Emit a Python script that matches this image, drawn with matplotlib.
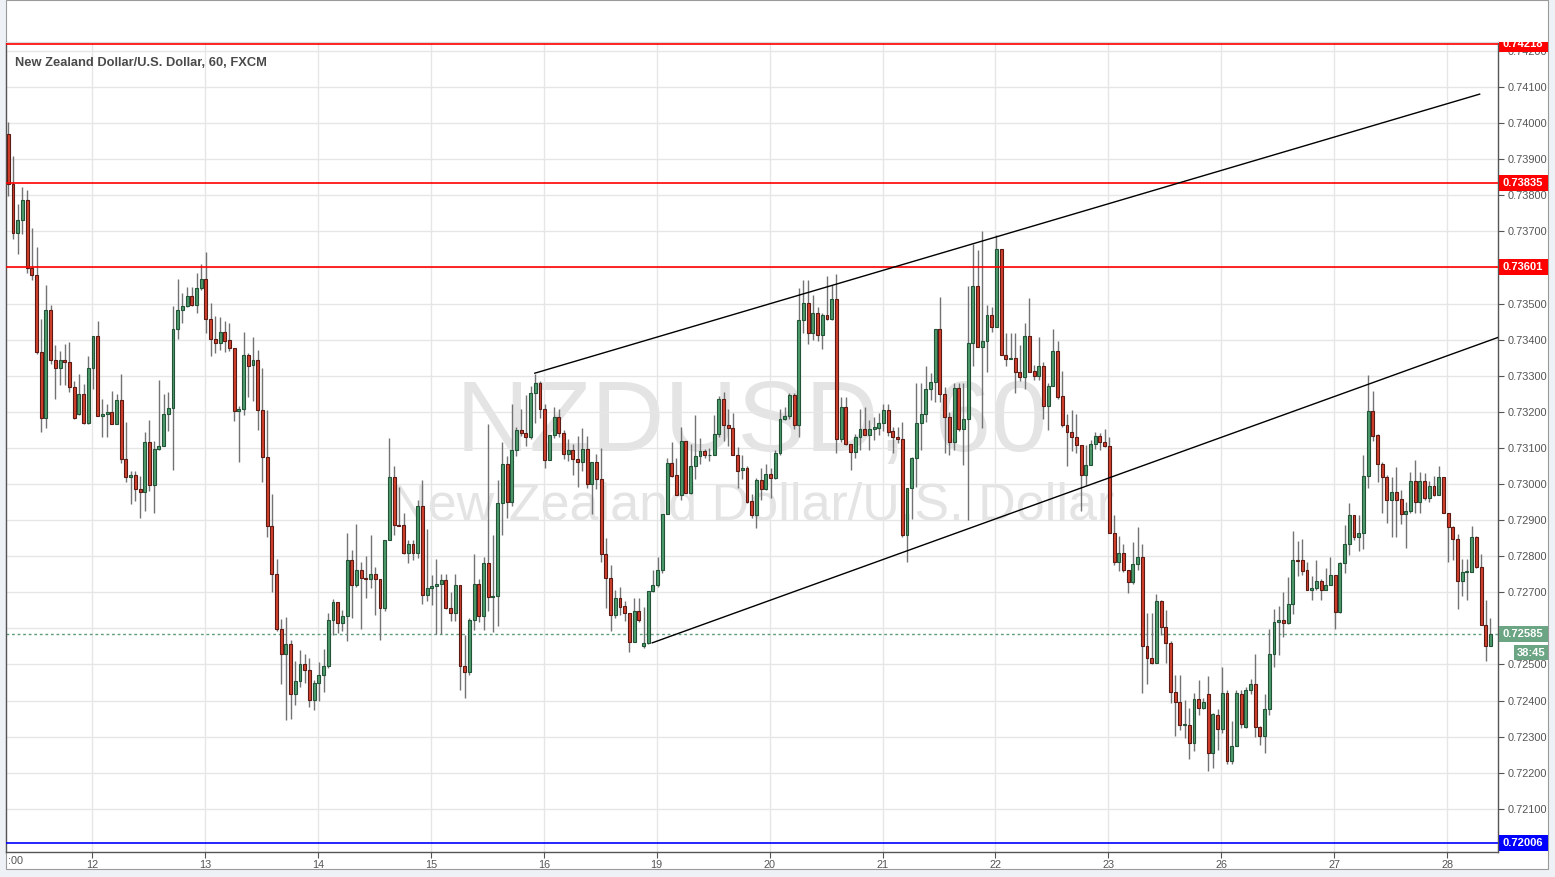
import matplotlib
matplotlib.use("Agg")
import matplotlib.pyplot as plt
import matplotlib.transforms as mtransforms
from matplotlib.patches import Rectangle
import numpy as np

# --- Hourly NZD/USD candles ---
opens = [
    0.73970, 0.73831, 0.73696, 0.73730, 0.73787, 0.73597, 0.73578, 0.73367, 0.73183, 0.73481,
    0.73344, 0.73322, 0.73344, 0.73339, 0.73269, 0.73194, 0.73250, 0.73169, 0.73322, 0.73411,
    0.73189, 0.73194, 0.73200, 0.73167, 0.73233, 0.73069, 0.73019, 0.73025, 0.72986, 0.72977,
    0.73115, 0.72996, 0.73097, 0.73106, 0.73193, 0.73211, 0.73428, 0.73481, 0.73493, 0.73522,
    0.73496, 0.73542, 0.73569, 0.73456, 0.73402, 0.73391, 0.73420, 0.73398, 0.73378, 0.73202,
    0.73208, 0.73356, 0.73330, 0.73344, 0.73205, 0.73074, 0.72885, 0.72750, 0.72598, 0.72530,
    0.72557, 0.72419, 0.72453, 0.72502, 0.72485, 0.72402, 0.72450, 0.72472, 0.72497, 0.72624,
    0.72672, 0.72615, 0.72635, 0.72789, 0.72720, 0.72763, 0.72740, 0.72737, 0.72752, 0.72737,
    0.72657, 0.72846, 0.73019, 0.72887, 0.72887, 0.72809, 0.72835, 0.72809, 0.72939, 0.72693,
    0.72713, 0.72717, 0.72724, 0.72735, 0.72657, 0.72643, 0.72721, 0.72496, 0.72480, 0.72624,
    0.72724, 0.72635, 0.72780, 0.72687, 0.72689, 0.72946, 0.73055, 0.72951, 0.73094, 0.73149,
    0.73140, 0.73131, 0.73252, 0.73280, 0.73207, 0.73066, 0.73136, 0.73186, 0.73140, 0.73082,
    0.73094, 0.73069, 0.73062, 0.73096, 0.72999, 0.73061, 0.73013, 0.72805, 0.72740, 0.72638,
    0.72684, 0.72661, 0.72643, 0.72562, 0.72647, 0.72550, 0.72559, 0.72703, 0.72719, 0.72761,
    0.72916, 0.73057, 0.73024, 0.72969, 0.73119, 0.72976, 0.73050, 0.73078, 0.73092, 0.73080,
    0.73081, 0.73138, 0.73235, 0.73164, 0.73155, 0.73080, 0.73038, 0.73044, 0.72952, 0.72913,
    0.73012, 0.72986, 0.73029, 0.73017, 0.73087, 0.73181, 0.73188, 0.73246, 0.73163, 0.73455,
    0.73501, 0.73419, 0.73473, 0.73412, 0.73468, 0.73456, 0.73512, 0.73125, 0.73212, 0.73110,
    0.73089, 0.73129, 0.73151, 0.73135, 0.73151, 0.73156, 0.73168, 0.73206, 0.73147, 0.73131,
    0.73125, 0.72858, 0.72988, 0.73073, 0.73168, 0.73195, 0.73262, 0.73283, 0.73429, 0.73249,
    0.73186, 0.73117, 0.73265, 0.73151, 0.73181, 0.73390, 0.73549, 0.73379, 0.73395, 0.73468,
    0.73434, 0.73652, 0.73357, 0.73346, 0.73349, 0.73311, 0.73297, 0.73410, 0.73314, 0.73299,
    0.73326, 0.73216, 0.73271, 0.73369, 0.73243, 0.73163, 0.73145, 0.73129, 0.73107, 0.73024,
    0.73052, 0.73110, 0.73132, 0.73115, 0.73105, 0.72863, 0.72783, 0.72809, 0.72763, 0.72729,
    0.72779, 0.72797, 0.72551, 0.72518, 0.72504, 0.72676, 0.72605, 0.72560, 0.72424, 0.72397,
    0.72333, 0.72333, 0.72283, 0.72404, 0.72379, 0.72417, 0.72255, 0.72361, 0.72321, 0.72420,
    0.72233, 0.72273, 0.72419, 0.72326, 0.72430, 0.72446, 0.72328, 0.72301, 0.72377, 0.72530,
    0.72618, 0.72622, 0.72615, 0.72667, 0.72789, 0.72789, 0.72761, 0.72706, 0.72713, 0.72731,
    0.72706, 0.72721, 0.72749, 0.72645, 0.72780, 0.72833, 0.72914, 0.72854, 0.72863, 0.73022,
    0.73203, 0.73136, 0.73055, 0.73019, 0.72957, 0.72977, 0.72959, 0.72916, 0.72925, 0.73009,
    0.72949, 0.73009, 0.72960, 0.72994, 0.72969, 0.73019, 0.72919, 0.72880, 0.72849, 0.72731,
    0.72756, 0.72756, 0.72852, 0.72769, 0.72610, 0.72551,
]
highs = [
    0.74002, 0.73909, 0.73776, 0.73822, 0.73815, 0.73708, 0.73657, 0.73456, 0.73551, 0.73495,
    0.73384, 0.73369, 0.73387, 0.73392, 0.73284, 0.73306, 0.73276, 0.73354, 0.73411, 0.73452,
    0.73236, 0.73222, 0.73259, 0.73250, 0.73306, 0.73173, 0.73035, 0.73037, 0.73023, 0.73145,
    0.73178, 0.73118, 0.73287, 0.73248, 0.73254, 0.73493, 0.73567, 0.73530, 0.73546, 0.73546,
    0.73585, 0.73609, 0.73644, 0.73502, 0.73465, 0.73463, 0.73452, 0.73446, 0.73378, 0.73215,
    0.73420, 0.73363, 0.73406, 0.73372, 0.73322, 0.73205, 0.72972, 0.72791, 0.72627, 0.72631,
    0.72567, 0.72511, 0.72539, 0.72528, 0.72518, 0.72456, 0.72507, 0.72543, 0.72644, 0.72681,
    0.72672, 0.72650, 0.72863, 0.72817, 0.72889, 0.72783, 0.72800, 0.72858, 0.72769, 0.72738,
    0.72846, 0.73127, 0.73050, 0.72991, 0.72919, 0.72846, 0.72846, 0.72956, 0.73011, 0.72874,
    0.72747, 0.72791, 0.72750, 0.72750, 0.72702, 0.72750, 0.72721, 0.72581, 0.72628, 0.72806,
    0.72738, 0.72798, 0.73167, 0.72858, 0.73011, 0.73115, 0.73078, 0.73221, 0.73158, 0.73207,
    0.73247, 0.73272, 0.73306, 0.73286, 0.73221, 0.73136, 0.73212, 0.73207, 0.73149, 0.73124,
    0.73110, 0.73133, 0.73155, 0.73133, 0.73061, 0.73082, 0.73101, 0.72851, 0.72777, 0.72705,
    0.72714, 0.72675, 0.72643, 0.72684, 0.72684, 0.72658, 0.72703, 0.72763, 0.72797, 0.72916,
    0.73071, 0.73115, 0.73073, 0.73158, 0.73119, 0.73110, 0.73192, 0.73127, 0.73098, 0.73100,
    0.73192, 0.73244, 0.73254, 0.73207, 0.73198, 0.73103, 0.73080, 0.73049, 0.72973, 0.73018,
    0.73043, 0.73056, 0.73045, 0.73094, 0.73209, 0.73214, 0.73253, 0.73251, 0.73543, 0.73564,
    0.73564, 0.73524, 0.73490, 0.73473, 0.73577, 0.73552, 0.73582, 0.73240, 0.73240, 0.73110,
    0.73138, 0.73209, 0.73214, 0.73177, 0.73186, 0.73197, 0.73223, 0.73223, 0.73158, 0.73158,
    0.73173, 0.72988, 0.73075, 0.73279, 0.73279, 0.73327, 0.73308, 0.73429, 0.73518, 0.73269,
    0.73200, 0.73281, 0.73279, 0.73279, 0.73549, 0.73666, 0.73649, 0.73700, 0.73496, 0.73490,
    0.73690, 0.73652, 0.73418, 0.73418, 0.73418, 0.73384, 0.73447, 0.73516, 0.73330, 0.73407,
    0.73339, 0.73281, 0.73430, 0.73395, 0.73314, 0.73193, 0.73206, 0.73193, 0.73109, 0.73107,
    0.73122, 0.73143, 0.73140, 0.73153, 0.73129, 0.72914, 0.72855, 0.72835, 0.72763, 0.72840,
    0.72880, 0.72835, 0.72642, 0.72642, 0.72696, 0.72679, 0.72652, 0.72565, 0.72472, 0.72472,
    0.72402, 0.72379, 0.72422, 0.72457, 0.72407, 0.72467, 0.72366, 0.72376, 0.72492, 0.72430,
    0.72343, 0.72430, 0.72428, 0.72437, 0.72460, 0.72530, 0.72330, 0.72419, 0.72599, 0.72655,
    0.72661, 0.72701, 0.72743, 0.72870, 0.72843, 0.72849, 0.72784, 0.72744, 0.72789, 0.72738,
    0.72766, 0.72798, 0.72749, 0.72784, 0.72886, 0.72946, 0.72914, 0.72914, 0.73081, 0.73303,
    0.73259, 0.73139, 0.73062, 0.73025, 0.73019, 0.73046, 0.72983, 0.72951, 0.73034, 0.73067,
    0.73034, 0.73031, 0.73009, 0.73022, 0.73050, 0.73019, 0.72919, 0.72883, 0.72861, 0.72791,
    0.72791, 0.72883, 0.72856, 0.72806, 0.72678, 0.72630,
]
lows = [
    0.73798, 0.73679, 0.73637, 0.73693, 0.73585, 0.73565, 0.73361, 0.73144, 0.73155, 0.73333,
    0.73236, 0.73273, 0.73273, 0.73255, 0.73180, 0.73190, 0.73167, 0.73167, 0.73264, 0.73189,
    0.73129, 0.73129, 0.73167, 0.73167, 0.73057, 0.73005, 0.72944, 0.72952, 0.72907, 0.72924,
    0.72981, 0.72921, 0.73094, 0.73104, 0.73146, 0.73039, 0.73402, 0.73446, 0.73491, 0.73494,
    0.73474, 0.73537, 0.73419, 0.73354, 0.73363, 0.73372, 0.73366, 0.73369, 0.73174, 0.73060,
    0.73190, 0.73240, 0.73231, 0.73150, 0.73006, 0.72854, 0.72700, 0.72594, 0.72446, 0.72346,
    0.72349, 0.72389, 0.72437, 0.72450, 0.72381, 0.72374, 0.72400, 0.72423, 0.72491, 0.72583,
    0.72587, 0.72594, 0.72565, 0.72628, 0.72715, 0.72598, 0.72683, 0.72711, 0.72637, 0.72569,
    0.72648, 0.72846, 0.72858, 0.72883, 0.72806, 0.72781, 0.72790, 0.72796, 0.72667, 0.72676,
    0.72665, 0.72585, 0.72585, 0.72654, 0.72620, 0.72620, 0.72428, 0.72407, 0.72470, 0.72596,
    0.72618, 0.72596, 0.72648, 0.72590, 0.72608, 0.72860, 0.72906, 0.72939, 0.73078, 0.73133,
    0.73106, 0.73124, 0.73170, 0.73184, 0.73045, 0.73066, 0.73127, 0.73129, 0.73069, 0.73064,
    0.73025, 0.72992, 0.73036, 0.72990, 0.72916, 0.72985, 0.72784, 0.72656, 0.72594, 0.72629,
    0.72638, 0.72621, 0.72536, 0.72562, 0.72618, 0.72545, 0.72556, 0.72701, 0.72714, 0.72754,
    0.72916, 0.73019, 0.72969, 0.72957, 0.72976, 0.72971, 0.73013, 0.73056, 0.73073, 0.73064,
    0.73081, 0.73129, 0.73119, 0.73106, 0.73080, 0.72990, 0.73015, 0.72947, 0.72906, 0.72879,
    0.72956, 0.72982, 0.72961, 0.73015, 0.73080, 0.73177, 0.73181, 0.73151, 0.73129, 0.73419,
    0.73388, 0.73399, 0.73397, 0.73373, 0.73454, 0.73454, 0.73086, 0.73117, 0.73107, 0.73040,
    0.73073, 0.73095, 0.73135, 0.73095, 0.73123, 0.73135, 0.73147, 0.73132, 0.73086, 0.73114,
    0.72853, 0.72784, 0.72904, 0.72991, 0.73094, 0.73172, 0.73232, 0.73228, 0.73228, 0.73086,
    0.73080, 0.73094, 0.73147, 0.73052, 0.72899, 0.73327, 0.73379, 0.73154, 0.73311, 0.73422,
    0.73434, 0.73357, 0.73326, 0.73346, 0.73253, 0.73284, 0.73264, 0.73309, 0.73287, 0.73289,
    0.73180, 0.73150, 0.73271, 0.73236, 0.73158, 0.73049, 0.73092, 0.73087, 0.72924, 0.72998,
    0.73052, 0.73097, 0.73095, 0.73103, 0.72863, 0.72775, 0.72759, 0.72756, 0.72699, 0.72724,
    0.72763, 0.72422, 0.72447, 0.72502, 0.72504, 0.72583, 0.72504, 0.72392, 0.72301, 0.72319,
    0.72296, 0.72238, 0.72260, 0.72361, 0.72376, 0.72205, 0.72212, 0.72263, 0.72311, 0.72225,
    0.72225, 0.72273, 0.72324, 0.72324, 0.72419, 0.72300, 0.72278, 0.72256, 0.72361, 0.72493,
    0.72525, 0.72576, 0.72613, 0.72641, 0.72744, 0.72747, 0.72706, 0.72678, 0.72707, 0.72678,
    0.72706, 0.72721, 0.72599, 0.72643, 0.72754, 0.72803, 0.72844, 0.72815, 0.72821, 0.72988,
    0.73118, 0.73006, 0.72919, 0.72893, 0.72852, 0.72854, 0.72889, 0.72824, 0.72920, 0.72920,
    0.72920, 0.72956, 0.72951, 0.72967, 0.72969, 0.72919, 0.72784, 0.72789, 0.72655, 0.72689,
    0.72678, 0.72756, 0.72766, 0.72610, 0.72509, 0.72551,
]
closes = [
    0.73831, 0.73696, 0.73731, 0.73787, 0.73597, 0.73578, 0.73367, 0.73183, 0.73481, 0.73344,
    0.73322, 0.73344, 0.73339, 0.73269, 0.73183, 0.73250, 0.73169, 0.73322, 0.73411, 0.73189,
    0.73194, 0.73200, 0.73167, 0.73233, 0.73069, 0.73020, 0.73025, 0.72986, 0.72977, 0.73115,
    0.72996, 0.73097, 0.73106, 0.73193, 0.73211, 0.73428, 0.73481, 0.73493, 0.73522, 0.73496,
    0.73542, 0.73569, 0.73456, 0.73402, 0.73391, 0.73420, 0.73396, 0.73378, 0.73202, 0.73208,
    0.73356, 0.73328, 0.73344, 0.73205, 0.73074, 0.72885, 0.72750, 0.72598, 0.72530, 0.72557,
    0.72419, 0.72453, 0.72502, 0.72485, 0.72402, 0.72450, 0.72472, 0.72497, 0.72624, 0.72672,
    0.72615, 0.72635, 0.72789, 0.72720, 0.72763, 0.72740, 0.72737, 0.72752, 0.72737, 0.72657,
    0.72846, 0.73019, 0.72887, 0.72885, 0.72809, 0.72835, 0.72809, 0.72939, 0.72693, 0.72713,
    0.72717, 0.72724, 0.72735, 0.72657, 0.72643, 0.72721, 0.72496, 0.72480, 0.72624, 0.72724,
    0.72635, 0.72780, 0.72687, 0.72689, 0.72946, 0.73055, 0.72951, 0.73094, 0.73149, 0.73140,
    0.73131, 0.73252, 0.73280, 0.73207, 0.73066, 0.73136, 0.73186, 0.73140, 0.73082, 0.73094,
    0.73069, 0.73062, 0.73096, 0.72999, 0.73061, 0.73013, 0.72805, 0.72740, 0.72638, 0.72684,
    0.72658, 0.72643, 0.72562, 0.72647, 0.72623, 0.72559, 0.72703, 0.72719, 0.72761, 0.72916,
    0.73057, 0.73022, 0.72969, 0.73119, 0.72976, 0.73050, 0.73078, 0.73092, 0.73080, 0.73081,
    0.73138, 0.73235, 0.73164, 0.73155, 0.73080, 0.73036, 0.73044, 0.72950, 0.72913, 0.73012,
    0.72986, 0.73029, 0.73017, 0.73087, 0.73181, 0.73188, 0.73246, 0.73163, 0.73455, 0.73501,
    0.73419, 0.73473, 0.73412, 0.73468, 0.73456, 0.73512, 0.73125, 0.73212, 0.73110, 0.73089,
    0.73129, 0.73151, 0.73135, 0.73151, 0.73158, 0.73169, 0.73206, 0.73144, 0.73131, 0.73125,
    0.72858, 0.72988, 0.73073, 0.73168, 0.73195, 0.73262, 0.73283, 0.73429, 0.73249, 0.73186,
    0.73117, 0.73265, 0.73151, 0.73181, 0.73390, 0.73549, 0.73379, 0.73395, 0.73468, 0.73434,
    0.73652, 0.73357, 0.73346, 0.73348, 0.73309, 0.73297, 0.73410, 0.73311, 0.73299, 0.73326,
    0.73216, 0.73271, 0.73369, 0.73241, 0.73163, 0.73143, 0.73129, 0.73107, 0.73024, 0.73052,
    0.73110, 0.73132, 0.73115, 0.73105, 0.72863, 0.72783, 0.72809, 0.72763, 0.72729, 0.72779,
    0.72797, 0.72551, 0.72518, 0.72504, 0.72676, 0.72605, 0.72560, 0.72424, 0.72397, 0.72333,
    0.72334, 0.72283, 0.72404, 0.72379, 0.72397, 0.72255, 0.72363, 0.72321, 0.72420, 0.72233,
    0.72273, 0.72420, 0.72335, 0.72430, 0.72446, 0.72326, 0.72301, 0.72377, 0.72530, 0.72618,
    0.72622, 0.72615, 0.72667, 0.72789, 0.72787, 0.72759, 0.72706, 0.72713, 0.72731, 0.72706,
    0.72721, 0.72749, 0.72645, 0.72780, 0.72833, 0.72914, 0.72854, 0.72863, 0.73022, 0.73203,
    0.73134, 0.73055, 0.73019, 0.72957, 0.72977, 0.72957, 0.72916, 0.72925, 0.73009, 0.72949,
    0.73009, 0.72960, 0.72994, 0.72969, 0.73019, 0.72919, 0.72880, 0.72849, 0.72731, 0.72756,
    0.72759, 0.72852, 0.72769, 0.72610, 0.72551, 0.72585,
]

# x axis: day labels (first bar of each day, in bar units)
day_labels = ['12', '13', '14', '15', '16', '19', '20', '21', '22', '23', '26', '27', '28']
first_day_bar = 17.8
bars_per_day = 24

# horizontal levels and trend lines
red_levels = [0.74218, 0.73835, 0.73601]
blue_level = 0.72006
last_price = 0.72585
countdown = '38:45'
upper_trend = ([111.9, 312.7], [0.73307, 0.74080])
lower_trend = ([136.85, 316.6], [0.72560, 0.73406])

price_ticks = np.round(np.arange(0.721, 0.7421, 0.001), 3)
hidden_ticks = [0.736, 0.726]   # covered by the level labels

# --- Figure ---
W, H = 1555, 877
fig = plt.figure(figsize=(W / 100, H / 100), dpi=100)
fig.patch.set_facecolor('#eef1f5')
fig.patches.append(Rectangle((6 / W, (H - 869) / H), (1548 - 6) / W, 869 / H,
                             transform=fig.transFigure, facecolor='white',
                             edgecolor='#9a9a9a', lw=0.8, zorder=-5))

ax = fig.add_axes([6 / W, (H - 852) / H, (1498 - 6) / W, (852 - 42) / H])
ymin, ymax = 0.719806, 0.742244
ax.set_xlim(-0.49, 316.6)
ax.set_ylim(ymin, ymax)
ax.set_axisbelow(True)

o = np.array(opens)
h = np.array(highs)
l = np.array(lows)
c = np.array(closes)
x = np.arange(len(c))
up = c >= o
body_bot = np.minimum(o, c)
body_h = np.maximum(np.abs(c - o), 0.000015)

# watermark
wm = mtransforms.blended_transform_factory(ax.transAxes, ax.transData)
ax.text(0.5, 0.730914, 'NZDUSD, 60', transform=wm, ha='center', va='baseline',
        fontsize=73, color='#e4e4e4', family='Liberation Sans', zorder=0.2)
ax.text(0.5, 0.729003, 'New Zealand Dollar/U.S. Dollar', transform=wm, ha='center',
        va='baseline', fontsize=37.5, color='#e4e4e4', family='Liberation Sans', zorder=0.2)

# candles
ax.vlines(x, l, h, color='#737375', lw=1.0, zorder=3)
ax.bar(x[up], body_h[up], bottom=body_bot[up], width=0.62, color='#4e9a6c',
       edgecolor='#225437', lw=0.8, zorder=4)
ax.bar(x[~up], body_h[~up], bottom=body_bot[~up], width=0.62, color='#d2402d',
       edgecolor='#5b1a13', lw=0.8, zorder=4)

# levels and drawings
for p in red_levels:
    ax.axhline(p, color='#ff0000', lw=1.2, zorder=5)
ax.axhline(blue_level, color='#0000ff', lw=1.2, zorder=5)
ax.axhline(last_price, color='#5f9c78', lw=1.0, ls=(0, (2, 2)), zorder=2)
ax.plot(*upper_trend, color='black', lw=1.0, zorder=5)
ax.plot(*lower_trend, color='black', lw=1.0, zorder=5)

# grid, ticks
day_pos = first_day_bar + bars_per_day * np.arange(len(day_labels))
ax.set_xticks(day_pos)
ax.set_xticklabels(day_labels, family='Liberation Sans', fontsize=7.8, color='#555555')
ax.set_yticks(price_ticks)
ax.set_yticklabels(['' if any(abs(t - q) < 1e-6 for q in hidden_ticks) else f'{t:.5f}'
                    for t in price_ticks],
                   family='Liberation Sans', fontsize=7.9, color='#555555')
ax.yaxis.tick_right()
ax.tick_params(axis='both', length=4, width=0.8, color='#555555')
ax.tick_params(axis='x', pad=2)
ax.tick_params(axis='y', pad=3)
ax.grid(True, color='#e6e6e6', lw=1.0)
for side in ['left', 'right', 'bottom']:
    ax.spines[side].set_color('#555555')
    ax.spines[side].set_linewidth(1.0)
ax.spines['top'].set_color('#d9d9d9')
ax.spines['top'].set_linewidth(0.8)

fig.text(8 / W, (H - 861) / H, ':00', family='Liberation Sans', fontsize=7.8,
         color='#555555', ha='left', va='center')
fig.text(15 / W, (H - 66) / H, 'New Zealand Dollar/U.S. Dollar, 60, FXCM',
         family='Liberation Sans', fontweight='bold', fontsize=9.25, color='#4a4a4a',
         ha='left', va='baseline')

# price scale labels
ax2 = fig.add_axes([1498 / W, (H - 852) / H, 50 / W, (852 - 42) / H])
ax2.set_xlim(0, 50)
ax2.set_ylim(ymin, ymax)
ax2.axis('off')
px = (ymax - ymin) / 810.0
box_h = 16 * px
labels = [(p, '#ff0000') for p in red_levels] + [(blue_level, '#0000ff'), (last_price, '#6ba583')]
for p, col in labels:
    ax2.add_patch(Rectangle((0.5, p - box_h / 2), 49.5, box_h, facecolor=col,
                            edgecolor='none', zorder=5))
    ax2.text(25, p, f'{p:.5f}', color='white', fontweight='bold', family='Liberation Sans',
             fontsize=8, ha='center', va='center', clip_on=True, zorder=6)
t_mid = last_price - 19 * px
ax2.add_patch(Rectangle((16, t_mid - 7.5 * px), 34, 15 * px, facecolor='#6ba583',
                        edgecolor='none', zorder=5))
ax2.text(33, t_mid, countdown, color='white', fontweight='bold', family='Liberation Sans',
         fontsize=8, ha='center', va='center', zorder=6)

fig.savefig('out.png', dpi=100, facecolor=fig.get_facecolor())
